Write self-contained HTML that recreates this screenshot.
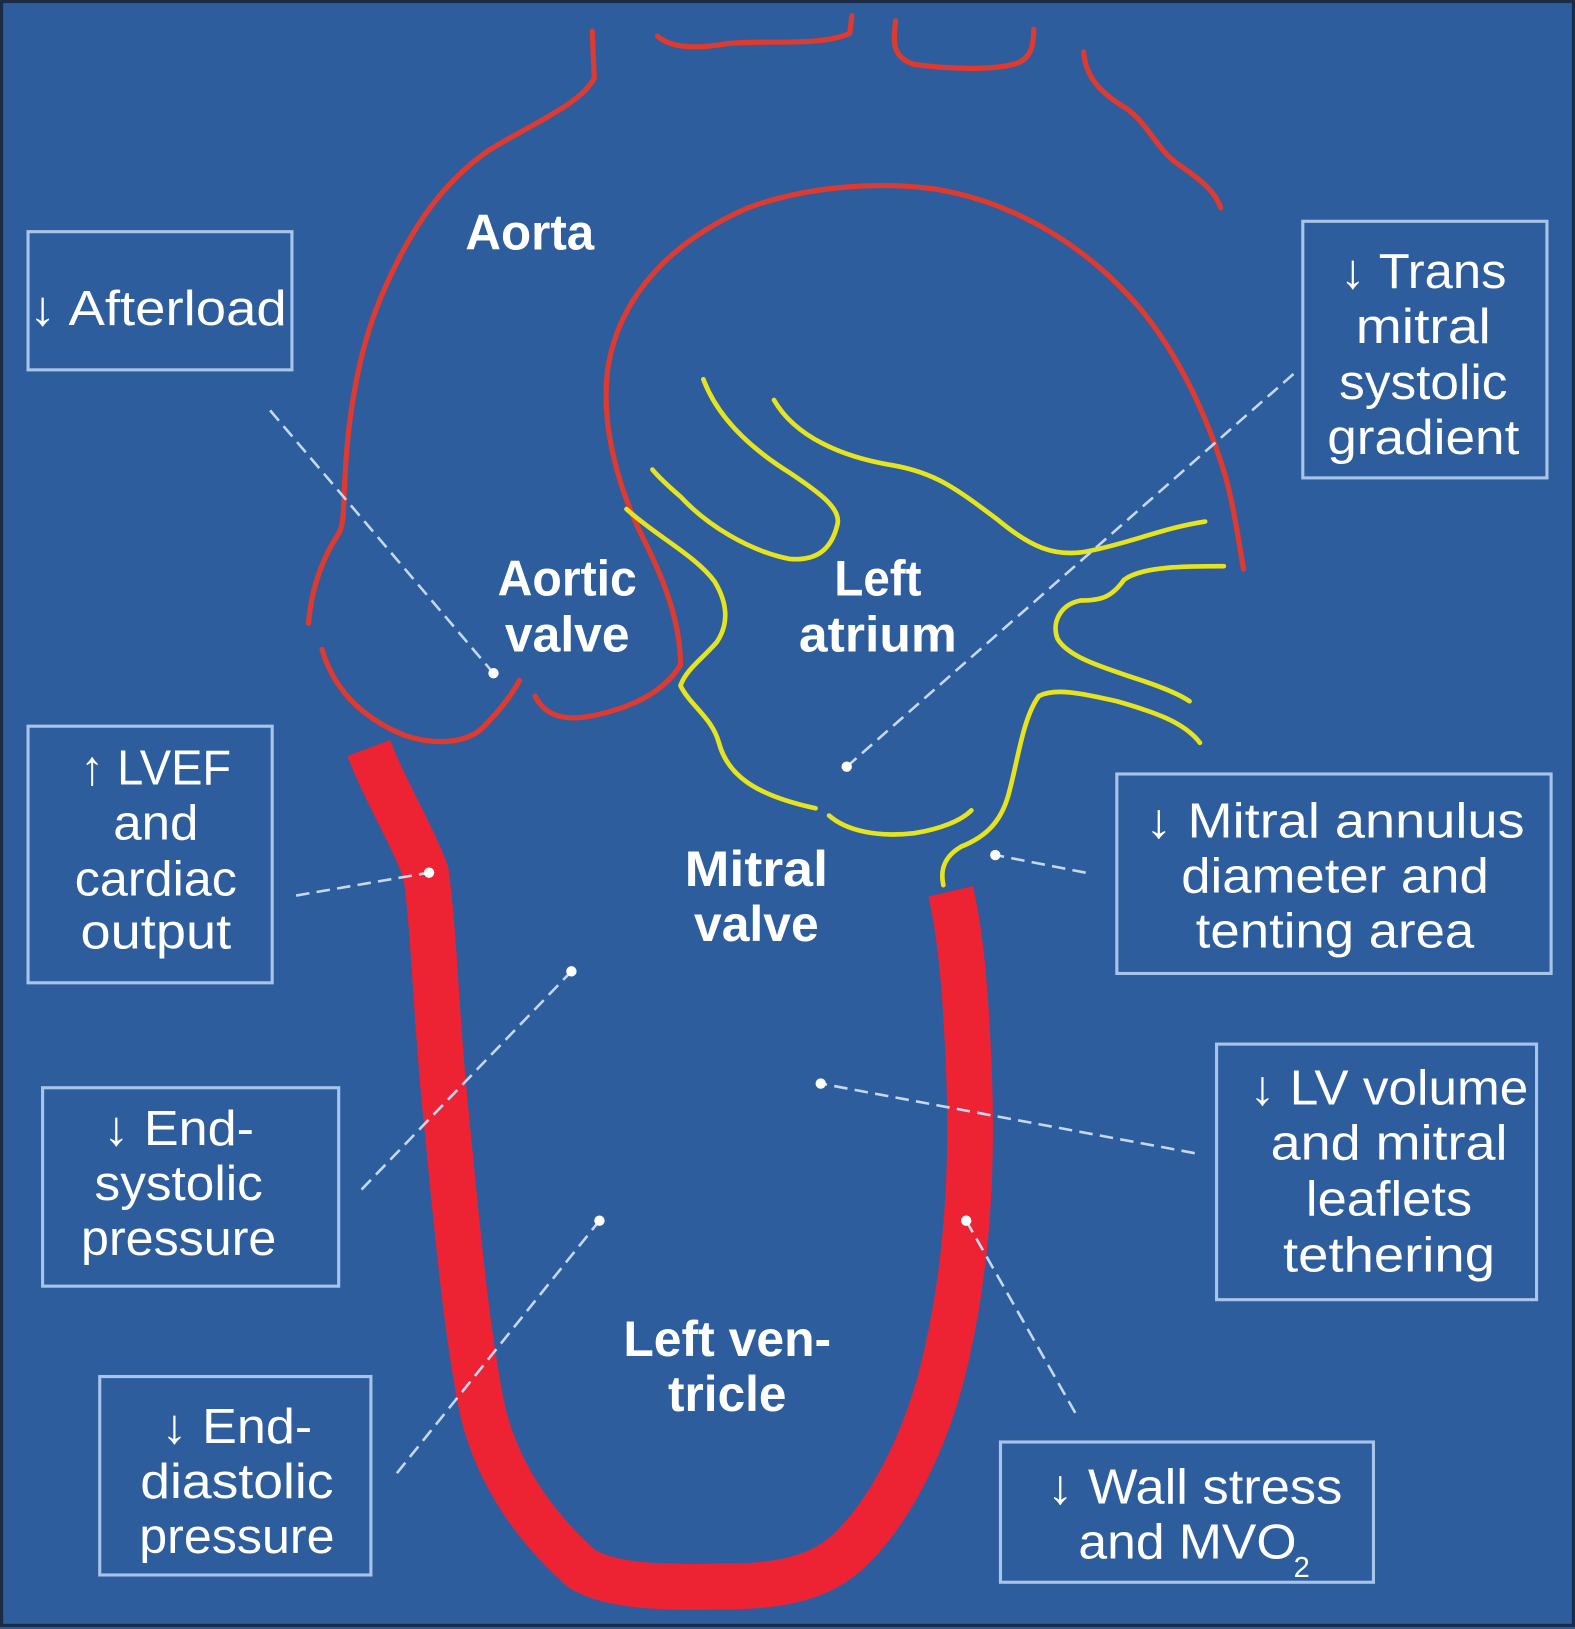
<!DOCTYPE html>
<html><head><meta charset="utf-8"><style>
html,body{margin:0;padding:0;background:#2e5d9d}
svg{display:block}
.b{fill:none;stroke:#a8c4e8;stroke-width:3}
.t{font-family:"Liberation Sans",sans-serif;font-size:47px;fill:#fff;text-anchor:middle}
.L{font-family:"Liberation Sans",sans-serif;font-size:48px;font-weight:bold;fill:#fff;text-anchor:middle}
.r{fill:none;stroke:#df3a2f;stroke-width:5;stroke-linecap:round;stroke-linejoin:round}
.y{fill:none;stroke:#e6e41e;stroke-width:4.5;stroke-linecap:round;stroke-linejoin:round}
.d{fill:none;stroke:#c4d8ef;stroke-width:2.5;stroke-dasharray:13 7}
.p{fill:#fff}
</style></head><body>
<svg width="1575" height="1629" viewBox="0 0 1516 1568" preserveAspectRatio="none">
<rect x="0" y="0" width="1516" height="1568" fill="#2e5d9d"/>
<rect x="1.5" y="1.5" width="1513" height="1563" fill="none" stroke="#1b2a45" stroke-width="3"/>

<!-- thin red outlines -->
<path class="r" d="M570,30 L572,75 C560,100 510,120 470,145 C420,180 390,230 365,290 C345,340 335,400 332,460 C330,490 332,505 325,515 C315,530 300,560 297,600"/>
<path class="r" d="M310,625 C320,660 345,690 390,708 C420,718 450,715 465,700 C480,685 492,670 500,655"/>
<path class="r" d="M515,670 C525,690 545,695 575,688 C610,680 640,665 655,640 C655,600 640,560 620,520 C595,470 578,410 585,355 C595,290 640,235 720,200 C780,178 850,175 900,182 C980,195 1050,240 1100,300 C1140,350 1165,410 1180,460 C1188,490 1192,520 1197,548"/>
<path class="r" d="M633,35 C645,45 665,48 700,42 C740,38 790,45 818,32 L820,15"/>
<path class="r" d="M862,20 C860,40 858,55 880,62 C910,66 950,68 975,62 C992,58 995,45 995,28"/>
<path class="r" d="M1043,50 C1045,75 1060,90 1085,105 C1105,120 1112,140 1130,155 C1150,170 1168,180 1175,200"/>

<!-- thick LV wall -->
<path d="M355,720 C370,760 395,800 410,840 C418,900 420,980 428,1060 C438,1160 448,1280 465,1360 C480,1420 515,1470 560,1510 C590,1528 640,1528 700,1527 C760,1527 795,1515 820,1490 C860,1450 895,1380 912,1300 C930,1220 936,1130 933,1040 C930,960 925,900 915,858" fill="none" stroke="#ed2334" stroke-width="44" stroke-linejoin="round"/>

<!-- yellow -->
<path class="y" d="M677,365 C690,400 720,430 760,455 C790,475 810,490 806,505 C800,530 785,540 760,538 C720,530 680,505 655,478 C640,465 633,458 628,452"/>
<path class="y" d="M745,385 C765,420 810,440 860,448 C900,455 920,470 960,500 C990,525 1015,538 1050,530 C1090,522 1120,508 1160,502"/>
<path class="y" d="M603,490 C630,515 670,535 688,560 C700,580 702,600 690,618 C675,635 660,645 655,660 C665,680 685,690 692,715 C700,745 725,765 785,778"/>
<path class="y" d="M798,785 C815,800 845,806 880,802 C905,798 925,790 935,780"/>
<path class="y" d="M1178,545 C1140,545 1100,545 1082,558 C1070,575 1060,578 1040,578 C1020,582 1012,600 1018,615 C1028,632 1060,642 1090,652 C1115,660 1135,668 1145,675"/>
<path class="y" d="M1155,715 C1140,695 1110,685 1075,675 C1040,667 1015,662 1000,670 C985,690 980,730 972,760 C965,790 950,805 925,815 C908,825 905,838 908,852"/>

<!-- dashed leaders -->
<path class="d" d="M260,395 L475,648"/><circle class="p" cx="475" cy="648" r="5"/>
<path class="d" d="M1245,360 L815,738"/><circle class="p" cx="815" cy="738" r="5"/>
<path class="d" d="M285,862 L413,840"/><circle class="p" cx="413" cy="840" r="5"/>
<path class="d" d="M1045,840 L958,823"/><circle class="p" cx="958" cy="823" r="5"/>
<path class="d" d="M348,1145 L550,935"/><circle class="p" cx="550" cy="935" r="5"/>
<path class="d" d="M1150,1110 L790,1043"/><circle class="p" cx="790" cy="1043" r="5"/>
<path class="d" d="M382,1418 L577,1175"/><circle class="p" cx="577" cy="1175" r="5"/>
<path class="d" d="M1035,1360 L930,1175"/><circle class="p" cx="930" cy="1175" r="5"/>

<!-- boxes -->
<rect class="b" x="27" y="223" width="254" height="133"/>
<rect class="b" x="1254" y="213" width="235" height="247"/>
<rect class="b" x="27" y="699" width="235" height="247"/>
<rect class="b" x="1075" y="745" width="418" height="192"/>
<rect class="b" x="41" y="1047" width="285" height="191"/>
<rect class="b" x="1171" y="1005" width="308" height="246"/>
<rect class="b" x="96" y="1325" width="261" height="191"/>
<rect class="b" x="963" y="1388" width="359" height="135"/>

<!-- box text -->
<text class="t" x="152" y="313" textLength="248" lengthAdjust="spacingAndGlyphs">↓ Afterload</text>
<text class="t" x="1370" y="277" textLength="160" lengthAdjust="spacingAndGlyphs">↓ Trans</text>
<text class="t" x="1370" y="330" textLength="130" lengthAdjust="spacingAndGlyphs">mitral</text>
<text class="t" x="1370" y="384" textLength="162" lengthAdjust="spacingAndGlyphs">systolic</text>
<text class="t" x="1370" y="437" textLength="185" lengthAdjust="spacingAndGlyphs">gradient</text>

<text class="t" x="150" y="755" textLength="145" lengthAdjust="spacingAndGlyphs">↑ LVEF</text>
<text class="t" x="150" y="808" textLength="82" lengthAdjust="spacingAndGlyphs">and</text>
<text class="t" x="150" y="862" textLength="156" lengthAdjust="spacingAndGlyphs">cardiac</text>
<text class="t" x="150" y="913" textLength="145" lengthAdjust="spacingAndGlyphs">output</text>

<text class="t" x="1285" y="806" textLength="365" lengthAdjust="spacingAndGlyphs">↓ Mitral annulus</text>
<text class="t" x="1285" y="859" textLength="296" lengthAdjust="spacingAndGlyphs">diameter and</text>
<text class="t" x="1285" y="912" textLength="268" lengthAdjust="spacingAndGlyphs">tenting area</text>

<text class="t" x="172" y="1102" textLength="145" lengthAdjust="spacingAndGlyphs">↓ End-</text>
<text class="t" x="172" y="1155" textLength="162" lengthAdjust="spacingAndGlyphs">systolic</text>
<text class="t" x="172" y="1208" textLength="188" lengthAdjust="spacingAndGlyphs">pressure</text>

<text class="t" x="1337" y="1063" textLength="268" lengthAdjust="spacingAndGlyphs">↓ LV volume</text>
<text class="t" x="1337" y="1116" textLength="228" lengthAdjust="spacingAndGlyphs">and mitral</text>
<text class="t" x="1337" y="1170" textLength="160" lengthAdjust="spacingAndGlyphs">leaflets</text>
<text class="t" x="1337" y="1224" textLength="204" lengthAdjust="spacingAndGlyphs">tethering</text>

<text class="t" x="228" y="1389" textLength="145" lengthAdjust="spacingAndGlyphs">↓ End-</text>
<text class="t" x="228" y="1442" textLength="186" lengthAdjust="spacingAndGlyphs">diastolic</text>
<text class="t" x="228" y="1495" textLength="188" lengthAdjust="spacingAndGlyphs">pressure</text>

<text class="t" x="1150" y="1447" textLength="284" lengthAdjust="spacingAndGlyphs">↓ Wall stress</text>
<text class="t" x="1143" y="1500" textLength="210" lengthAdjust="spacingAndGlyphs">and MVO</text>
<text class="t" x="1253" y="1518" style="font-size:28px">2</text>

<!-- bold labels -->
<text class="L" x="510" y="240" textLength="124" lengthAdjust="spacingAndGlyphs">Aorta</text>
<text class="L" x="546" y="573" textLength="134" lengthAdjust="spacingAndGlyphs">Aortic</text>
<text class="L" x="546" y="627" textLength="120" lengthAdjust="spacingAndGlyphs">valve</text>
<text class="L" x="845" y="573" textLength="84" lengthAdjust="spacingAndGlyphs">Left</text>
<text class="L" x="845" y="627" textLength="152" lengthAdjust="spacingAndGlyphs">atrium</text>
<text class="L" x="728" y="853" textLength="138" lengthAdjust="spacingAndGlyphs">Mitral</text>
<text class="L" x="728" y="906" textLength="120" lengthAdjust="spacingAndGlyphs">valve</text>
<text class="L" x="700" y="1305" textLength="200" lengthAdjust="spacingAndGlyphs">Left ven-</text>
<text class="L" x="700" y="1358" textLength="114" lengthAdjust="spacingAndGlyphs">tricle</text>
</svg>
</body></html>
